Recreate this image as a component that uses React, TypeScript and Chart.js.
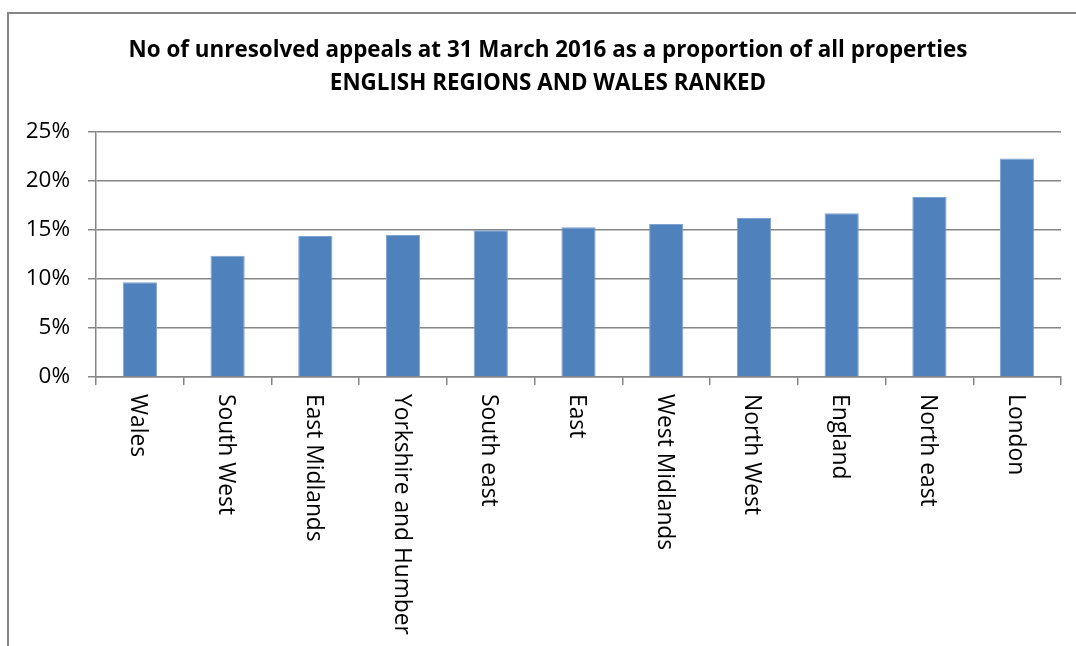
import React, { useEffect, useRef } from "react";
import { Chart, registerables } from "chart.js";

Chart.register(...registerables);

const categories = [
  "Wales",
  "South West",
  "East Midlands",
  "Yorkshire and Humber",
  "South east",
  "East",
  "West Midlands",
  "North West",
  "England",
  "North east",
  "London",
];
const values = [9.66, 12.38, 14.39, 14.49, 14.97, 15.27, 15.61, 16.22, 16.7, 18.37, 22.3];
const yTicks = [0, 5, 10, 15, 20, 25];
const titleLines = [
  "No of unresolved appeals at 31 March 2016 as a proportion of all properties",
  "ENGLISH REGIONS AND WALES RANKED",
];

const FONT = '"Open Sans", "Noto Sans", sans-serif';
const GRID = "#868686";

const rotatedLabels = {
  id: "rotatedLabels",
  afterDraw(chart: any) {
    const xs = chart.scales.x;
    const ctx = chart.ctx;
    ctx.save();
    ctx.font = `22.8px ${FONT}`;
    ctx.fillStyle = "#000";
    ctx.textAlign = "left";
    ctx.textBaseline = "middle";
    categories.forEach((c, i) => {
      const px = xs.getPixelForValue(i);
      ctx.save();
      ctx.translate(px - 2, xs.top + 17);
      ctx.rotate(Math.PI / 2);
      ctx.fillText(c, 0, 0);
      ctx.restore();
    });
    ctx.restore();
  },
};

const titleText = {
  id: "titleText",
  afterDraw(chart: any) {
    const ctx = chart.ctx;
    ctx.save();
    ctx.font = `bold 22.4px ${FONT}`;
    ctx.fillStyle = "#000";
    ctx.textAlign = "center";
    ctx.textBaseline = "middle";
    titleLines.forEach((t, i) => {
      ctx.fillText(t, 548, 51 + i * 33);
    });
    ctx.restore();
  },
};

export default function App() {
  const ref = useRef<HTMLCanvasElement>(null);
  useEffect(() => {
    if (!ref.current) return;
    const chart = new Chart(ref.current, {
      type: "bar",
      data: {
        labels: categories,
        datasets: [
          {
            data: values,
            backgroundColor: "#4F81BD",
            borderColor: "#7FA3D0",
            borderWidth: 1,
            categoryPercentage: 1,
            barPercentage: 0.39,
          },
        ],
      },
      options: {
        responsive: false,
        animation: false,
        layout: { padding: { left: 8, right: 15, top: 132, bottom: 0 } },
        plugins: {
          legend: { display: false },
          tooltip: { enabled: false },
          title: { display: false },
        },
        scales: {
          x: {
            type: "category",
            offset: true,
            grid: {
              display: true,
              drawOnChartArea: false,
              drawTicks: true,
              tickLength: 8,
              color: GRID,
              lineWidth: 1.5,
              offset: true,
            },
            border: { display: true, color: GRID, width: 1.5 },
            ticks: { display: false },
            afterFit: (s: any) => {
              s.height = 269;
            },
          },
          y: {
            min: 0,
            max: 25,
            afterBuildTicks: (s: any) => {
              s.ticks = yTicks.map((v) => ({ value: v }));
            },
            ticks: {
              callback: (v: any) => `${v}%`,
              color: "#000",
              font: { family: FONT, size: 22.5 },
              padding: 18,
            },
            grid: { color: GRID, lineWidth: 1.5, tickLength: 8 },
            border: { display: true, color: GRID, width: 1.5 },
            afterFit: (s: any) => {
              s.width = 88;
            },
          },
        },
      },
      plugins: [rotatedLabels, titleText],
    });
    return () => chart.destroy();
  }, []);

  return (
    <div style={{ position: "fixed", inset: 0, overflow: "hidden", background: "#fff" }}>
      <div
        style={{
          position: "absolute",
          left: 7,
          top: 12,
          width: 1200,
          height: 800,
          border: `2px solid ${GRID}`,
        }}
      />
      <canvas
        ref={ref}
        width={1076}
        height={646}
        style={{ position: "absolute", left: 0, top: 0, width: 1076, height: 646, display: "block" }}
      />
    </div>
  );
}
